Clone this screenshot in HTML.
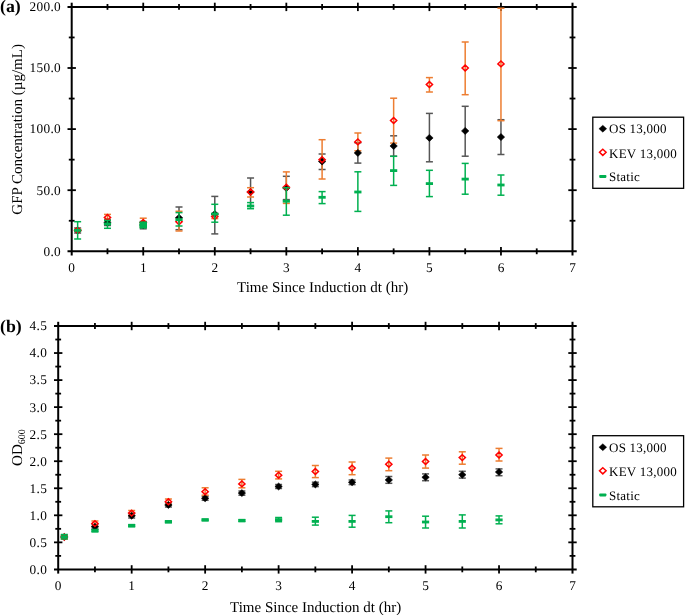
<!DOCTYPE html>
<html><head><meta charset="utf-8"><title>GFP and OD600 vs time</title>
<style>html,body{margin:0;padding:0;background:#fff;width:685px;height:615px;overflow:hidden}svg{display:block;will-change:transform}</style>
</head><body>
<svg width="685" height="615" viewBox="0 0 685 615" font-family='"Liberation Serif", serif' fill="#000" style="text-rendering:geometricPrecision">
<rect width="685" height="615" fill="#fff"/>
<g font-size="13.3"><text x="61" y="255.6" text-anchor="end" letter-spacing="0.3">0.0</text>
<text x="61" y="194.5" text-anchor="end" letter-spacing="0.3">50.0</text>
<text x="61" y="133.4" text-anchor="end" letter-spacing="0.3">100.0</text>
<text x="61" y="72.3" text-anchor="end" letter-spacing="0.3">150.0</text>
<text x="61" y="11.2" text-anchor="end" letter-spacing="0.3">200.0</text>
<text x="71.7" y="271.6" text-anchor="middle">0</text>
<text x="143.24" y="271.6" text-anchor="middle">1</text>
<text x="214.79" y="271.6" text-anchor="middle">2</text>
<text x="286.33" y="271.6" text-anchor="middle">3</text>
<text x="357.87" y="271.6" text-anchor="middle">4</text>
<text x="429.41" y="271.6" text-anchor="middle">5</text>
<text x="500.96" y="271.6" text-anchor="middle">6</text>
<text x="572.5" y="271.6" text-anchor="middle">7</text></g>
<line x1="67.5" y1="251.3" x2="576.7" y2="251.3" stroke="#000" stroke-width="2.0"/>
<line x1="67.5" y1="6.9" x2="576.7" y2="6.9" stroke="#000" stroke-width="2.0"/>
<line x1="71.7" y1="2.7" x2="71.7" y2="255.5" stroke="#000" stroke-width="2.0"/>
<line x1="572.5" y1="2.7" x2="572.5" y2="255.5" stroke="#000" stroke-width="2.0"/>
<line x1="107.47" y1="248.4" x2="107.47" y2="254.2" stroke="#000" stroke-width="1.8"/>
<line x1="107.47" y1="4" x2="107.47" y2="9.8" stroke="#000" stroke-width="1.8"/>
<line x1="143.24" y1="247.1" x2="143.24" y2="255.5" stroke="#000" stroke-width="1.8"/>
<line x1="143.24" y1="2.7" x2="143.24" y2="11.1" stroke="#000" stroke-width="1.8"/>
<line x1="179.01" y1="248.4" x2="179.01" y2="254.2" stroke="#000" stroke-width="1.8"/>
<line x1="179.01" y1="4" x2="179.01" y2="9.8" stroke="#000" stroke-width="1.8"/>
<line x1="214.79" y1="247.1" x2="214.79" y2="255.5" stroke="#000" stroke-width="1.8"/>
<line x1="214.79" y1="2.7" x2="214.79" y2="11.1" stroke="#000" stroke-width="1.8"/>
<line x1="250.56" y1="248.4" x2="250.56" y2="254.2" stroke="#000" stroke-width="1.8"/>
<line x1="250.56" y1="4" x2="250.56" y2="9.8" stroke="#000" stroke-width="1.8"/>
<line x1="286.33" y1="247.1" x2="286.33" y2="255.5" stroke="#000" stroke-width="1.8"/>
<line x1="286.33" y1="2.7" x2="286.33" y2="11.1" stroke="#000" stroke-width="1.8"/>
<line x1="322.1" y1="248.4" x2="322.1" y2="254.2" stroke="#000" stroke-width="1.8"/>
<line x1="322.1" y1="4" x2="322.1" y2="9.8" stroke="#000" stroke-width="1.8"/>
<line x1="357.87" y1="247.1" x2="357.87" y2="255.5" stroke="#000" stroke-width="1.8"/>
<line x1="357.87" y1="2.7" x2="357.87" y2="11.1" stroke="#000" stroke-width="1.8"/>
<line x1="393.64" y1="248.4" x2="393.64" y2="254.2" stroke="#000" stroke-width="1.8"/>
<line x1="393.64" y1="4" x2="393.64" y2="9.8" stroke="#000" stroke-width="1.8"/>
<line x1="429.41" y1="247.1" x2="429.41" y2="255.5" stroke="#000" stroke-width="1.8"/>
<line x1="429.41" y1="2.7" x2="429.41" y2="11.1" stroke="#000" stroke-width="1.8"/>
<line x1="465.19" y1="248.4" x2="465.19" y2="254.2" stroke="#000" stroke-width="1.8"/>
<line x1="465.19" y1="4" x2="465.19" y2="9.8" stroke="#000" stroke-width="1.8"/>
<line x1="500.96" y1="247.1" x2="500.96" y2="255.5" stroke="#000" stroke-width="1.8"/>
<line x1="500.96" y1="2.7" x2="500.96" y2="11.1" stroke="#000" stroke-width="1.8"/>
<line x1="536.73" y1="248.4" x2="536.73" y2="254.2" stroke="#000" stroke-width="1.8"/>
<line x1="536.73" y1="4" x2="536.73" y2="9.8" stroke="#000" stroke-width="1.8"/>
<line x1="68.8" y1="220.75" x2="74.6" y2="220.75" stroke="#000" stroke-width="1.8"/>
<line x1="569.6" y1="220.75" x2="575.4" y2="220.75" stroke="#000" stroke-width="1.8"/>
<line x1="67.5" y1="190.2" x2="75.9" y2="190.2" stroke="#000" stroke-width="1.8"/>
<line x1="568.3" y1="190.2" x2="576.7" y2="190.2" stroke="#000" stroke-width="1.8"/>
<line x1="68.8" y1="159.65" x2="74.6" y2="159.65" stroke="#000" stroke-width="1.8"/>
<line x1="569.6" y1="159.65" x2="575.4" y2="159.65" stroke="#000" stroke-width="1.8"/>
<line x1="67.5" y1="129.1" x2="75.9" y2="129.1" stroke="#000" stroke-width="1.8"/>
<line x1="568.3" y1="129.1" x2="576.7" y2="129.1" stroke="#000" stroke-width="1.8"/>
<line x1="68.8" y1="98.55" x2="74.6" y2="98.55" stroke="#000" stroke-width="1.8"/>
<line x1="569.6" y1="98.55" x2="575.4" y2="98.55" stroke="#000" stroke-width="1.8"/>
<line x1="67.5" y1="68" x2="75.9" y2="68" stroke="#000" stroke-width="1.8"/>
<line x1="568.3" y1="68" x2="576.7" y2="68" stroke="#000" stroke-width="1.8"/>
<line x1="68.8" y1="37.45" x2="74.6" y2="37.45" stroke="#000" stroke-width="1.8"/>
<line x1="569.6" y1="37.45" x2="575.4" y2="37.45" stroke="#000" stroke-width="1.8"/>
<line x1="77.64" y1="228" x2="77.64" y2="233" stroke="#565656" stroke-width="1.5"/>
<line x1="74.14" y1="228" x2="81.14" y2="228" stroke="#565656" stroke-width="1.5"/>
<line x1="74.14" y1="233" x2="81.14" y2="233" stroke="#565656" stroke-width="1.5"/>
<line x1="107.47" y1="219.5" x2="107.47" y2="225.5" stroke="#565656" stroke-width="1.5"/>
<line x1="103.97" y1="219.5" x2="110.97" y2="219.5" stroke="#565656" stroke-width="1.5"/>
<line x1="103.97" y1="225.5" x2="110.97" y2="225.5" stroke="#565656" stroke-width="1.5"/>
<line x1="143.24" y1="221.5" x2="143.24" y2="228.8" stroke="#565656" stroke-width="1.5"/>
<line x1="139.74" y1="221.5" x2="146.74" y2="221.5" stroke="#565656" stroke-width="1.5"/>
<line x1="139.74" y1="228.8" x2="146.74" y2="228.8" stroke="#565656" stroke-width="1.5"/>
<line x1="179.01" y1="207" x2="179.01" y2="229.7" stroke="#565656" stroke-width="1.5"/>
<line x1="175.51" y1="207" x2="182.51" y2="207" stroke="#565656" stroke-width="1.5"/>
<line x1="175.51" y1="229.7" x2="182.51" y2="229.7" stroke="#565656" stroke-width="1.5"/>
<line x1="214.79" y1="196.4" x2="214.79" y2="233.9" stroke="#565656" stroke-width="1.5"/>
<line x1="211.29" y1="196.4" x2="218.29" y2="196.4" stroke="#565656" stroke-width="1.5"/>
<line x1="211.29" y1="233.9" x2="218.29" y2="233.9" stroke="#565656" stroke-width="1.5"/>
<line x1="250.56" y1="178" x2="250.56" y2="206" stroke="#565656" stroke-width="1.5"/>
<line x1="247.06" y1="178" x2="254.06" y2="178" stroke="#565656" stroke-width="1.5"/>
<line x1="247.06" y1="206" x2="254.06" y2="206" stroke="#565656" stroke-width="1.5"/>
<line x1="286.33" y1="176.3" x2="286.33" y2="199.6" stroke="#565656" stroke-width="1.5"/>
<line x1="282.83" y1="176.3" x2="289.83" y2="176.3" stroke="#565656" stroke-width="1.5"/>
<line x1="282.83" y1="199.6" x2="289.83" y2="199.6" stroke="#565656" stroke-width="1.5"/>
<line x1="322.1" y1="154" x2="322.1" y2="169.5" stroke="#565656" stroke-width="1.5"/>
<line x1="318.6" y1="154" x2="325.6" y2="154" stroke="#565656" stroke-width="1.5"/>
<line x1="318.6" y1="169.5" x2="325.6" y2="169.5" stroke="#565656" stroke-width="1.5"/>
<line x1="357.87" y1="142.7" x2="357.87" y2="163.1" stroke="#565656" stroke-width="1.5"/>
<line x1="354.37" y1="142.7" x2="361.37" y2="142.7" stroke="#565656" stroke-width="1.5"/>
<line x1="354.37" y1="163.1" x2="361.37" y2="163.1" stroke="#565656" stroke-width="1.5"/>
<line x1="393.64" y1="135.8" x2="393.64" y2="156.2" stroke="#565656" stroke-width="1.5"/>
<line x1="390.14" y1="135.8" x2="397.14" y2="135.8" stroke="#565656" stroke-width="1.5"/>
<line x1="390.14" y1="156.2" x2="397.14" y2="156.2" stroke="#565656" stroke-width="1.5"/>
<line x1="429.41" y1="113.4" x2="429.41" y2="161.8" stroke="#565656" stroke-width="1.5"/>
<line x1="425.91" y1="113.4" x2="432.91" y2="113.4" stroke="#565656" stroke-width="1.5"/>
<line x1="425.91" y1="161.8" x2="432.91" y2="161.8" stroke="#565656" stroke-width="1.5"/>
<line x1="465.19" y1="106.3" x2="465.19" y2="156.2" stroke="#565656" stroke-width="1.5"/>
<line x1="461.69" y1="106.3" x2="468.69" y2="106.3" stroke="#565656" stroke-width="1.5"/>
<line x1="461.69" y1="156.2" x2="468.69" y2="156.2" stroke="#565656" stroke-width="1.5"/>
<line x1="500.96" y1="119.7" x2="500.96" y2="154.5" stroke="#565656" stroke-width="1.5"/>
<line x1="497.46" y1="119.7" x2="504.46" y2="119.7" stroke="#565656" stroke-width="1.5"/>
<line x1="497.46" y1="154.5" x2="504.46" y2="154.5" stroke="#565656" stroke-width="1.5"/>
<line x1="77.64" y1="229.2" x2="77.64" y2="231.2" stroke="#ED7D31" stroke-width="1.5"/>
<line x1="74.14" y1="229.2" x2="81.14" y2="229.2" stroke="#ED7D31" stroke-width="1.5"/>
<line x1="74.14" y1="231.2" x2="81.14" y2="231.2" stroke="#ED7D31" stroke-width="1.5"/>
<line x1="107.47" y1="214.4" x2="107.47" y2="220.4" stroke="#ED7D31" stroke-width="1.5"/>
<line x1="103.97" y1="214.4" x2="110.97" y2="214.4" stroke="#ED7D31" stroke-width="1.5"/>
<line x1="103.97" y1="220.4" x2="110.97" y2="220.4" stroke="#ED7D31" stroke-width="1.5"/>
<line x1="143.24" y1="218.2" x2="143.24" y2="226.8" stroke="#ED7D31" stroke-width="1.5"/>
<line x1="139.74" y1="218.2" x2="146.74" y2="218.2" stroke="#ED7D31" stroke-width="1.5"/>
<line x1="139.74" y1="226.8" x2="146.74" y2="226.8" stroke="#ED7D31" stroke-width="1.5"/>
<line x1="179.01" y1="211.3" x2="179.01" y2="231" stroke="#ED7D31" stroke-width="1.5"/>
<line x1="175.51" y1="211.3" x2="182.51" y2="211.3" stroke="#ED7D31" stroke-width="1.5"/>
<line x1="175.51" y1="231" x2="182.51" y2="231" stroke="#ED7D31" stroke-width="1.5"/>
<line x1="214.79" y1="214.6" x2="214.79" y2="218.6" stroke="#ED7D31" stroke-width="1.5"/>
<line x1="211.29" y1="214.6" x2="218.29" y2="214.6" stroke="#ED7D31" stroke-width="1.5"/>
<line x1="211.29" y1="218.6" x2="218.29" y2="218.6" stroke="#ED7D31" stroke-width="1.5"/>
<line x1="250.56" y1="187.7" x2="250.56" y2="197" stroke="#ED7D31" stroke-width="1.5"/>
<line x1="247.06" y1="187.7" x2="254.06" y2="187.7" stroke="#ED7D31" stroke-width="1.5"/>
<line x1="247.06" y1="197" x2="254.06" y2="197" stroke="#ED7D31" stroke-width="1.5"/>
<line x1="286.33" y1="171.9" x2="286.33" y2="203.4" stroke="#ED7D31" stroke-width="1.5"/>
<line x1="282.83" y1="171.9" x2="289.83" y2="171.9" stroke="#ED7D31" stroke-width="1.5"/>
<line x1="282.83" y1="203.4" x2="289.83" y2="203.4" stroke="#ED7D31" stroke-width="1.5"/>
<line x1="322.1" y1="139.7" x2="322.1" y2="179" stroke="#ED7D31" stroke-width="1.5"/>
<line x1="318.6" y1="139.7" x2="325.6" y2="139.7" stroke="#ED7D31" stroke-width="1.5"/>
<line x1="318.6" y1="179" x2="325.6" y2="179" stroke="#ED7D31" stroke-width="1.5"/>
<line x1="357.87" y1="133" x2="357.87" y2="150.8" stroke="#ED7D31" stroke-width="1.5"/>
<line x1="354.37" y1="133" x2="361.37" y2="133" stroke="#ED7D31" stroke-width="1.5"/>
<line x1="354.37" y1="150.8" x2="361.37" y2="150.8" stroke="#ED7D31" stroke-width="1.5"/>
<line x1="393.64" y1="98.2" x2="393.64" y2="143.1" stroke="#ED7D31" stroke-width="1.5"/>
<line x1="390.14" y1="98.2" x2="397.14" y2="98.2" stroke="#ED7D31" stroke-width="1.5"/>
<line x1="390.14" y1="143.1" x2="397.14" y2="143.1" stroke="#ED7D31" stroke-width="1.5"/>
<line x1="429.41" y1="77.6" x2="429.41" y2="92" stroke="#ED7D31" stroke-width="1.5"/>
<line x1="425.91" y1="77.6" x2="432.91" y2="77.6" stroke="#ED7D31" stroke-width="1.5"/>
<line x1="425.91" y1="92" x2="432.91" y2="92" stroke="#ED7D31" stroke-width="1.5"/>
<line x1="465.19" y1="42" x2="465.19" y2="94.7" stroke="#ED7D31" stroke-width="1.5"/>
<line x1="461.69" y1="42" x2="468.69" y2="42" stroke="#ED7D31" stroke-width="1.5"/>
<line x1="461.69" y1="94.7" x2="468.69" y2="94.7" stroke="#ED7D31" stroke-width="1.5"/>
<line x1="500.96" y1="8.2" x2="500.96" y2="120.7" stroke="#ED7D31" stroke-width="1.5"/>
<line x1="497.46" y1="8.2" x2="504.46" y2="8.2" stroke="#ED7D31" stroke-width="1.5"/>
<line x1="497.46" y1="120.7" x2="504.46" y2="120.7" stroke="#ED7D31" stroke-width="1.5"/>
<polygon points="77.64,226.9 81.34,230.4 77.64,233.9 73.94,230.4" fill="#000" stroke="#000" stroke-width="0.6"/>
<polygon points="107.47,219.1 111.17,222.6 107.47,226.1 103.77,222.6" fill="#000" stroke="#000" stroke-width="0.6"/>
<polygon points="143.24,221.5 146.94,225 143.24,228.5 139.54,225" fill="#000" stroke="#000" stroke-width="0.6"/>
<polygon points="179.01,214.3 182.71,217.8 179.01,221.3 175.31,217.8" fill="#000" stroke="#000" stroke-width="0.6"/>
<polygon points="214.79,210.5 218.49,214 214.79,217.5 211.09,214" fill="#000" stroke="#000" stroke-width="0.6"/>
<polygon points="250.56,188.5 254.26,192 250.56,195.5 246.86,192" fill="#000" stroke="#000" stroke-width="0.6"/>
<polygon points="286.33,184.5 290.03,188 286.33,191.5 282.63,188" fill="#000" stroke="#000" stroke-width="0.6"/>
<polygon points="322.1,158 325.8,161.5 322.1,165 318.4,161.5" fill="#000" stroke="#000" stroke-width="0.6"/>
<polygon points="357.87,149.4 361.57,152.9 357.87,156.4 354.17,152.9" fill="#000" stroke="#000" stroke-width="0.6"/>
<polygon points="393.64,142.5 397.34,146 393.64,149.5 389.94,146" fill="#000" stroke="#000" stroke-width="0.6"/>
<polygon points="429.41,134.4 433.11,137.9 429.41,141.4 425.71,137.9" fill="#000" stroke="#000" stroke-width="0.6"/>
<polygon points="465.19,127.4 468.89,130.9 465.19,134.4 461.49,130.9" fill="#000" stroke="#000" stroke-width="0.6"/>
<polygon points="500.96,133.6 504.66,137.1 500.96,140.6 497.26,137.1" fill="#000" stroke="#000" stroke-width="0.6"/>
<polygon points="77.64,227.3 80.74,230.2 77.64,233.1 74.54,230.2" fill="none" stroke="#FF0000" stroke-width="1.5"/>
<polygon points="107.47,214.5 110.57,217.4 107.47,220.3 104.37,217.4" fill="none" stroke="#FF0000" stroke-width="1.5"/>
<polygon points="143.24,219.6 146.34,222.5 143.24,225.4 140.14,222.5" fill="none" stroke="#FF0000" stroke-width="1.5"/>
<polygon points="179.01,218.8 182.11,221.7 179.01,224.6 175.91,221.7" fill="none" stroke="#FF0000" stroke-width="1.5"/>
<polygon points="214.79,213.7 217.89,216.6 214.79,219.5 211.69,216.6" fill="none" stroke="#FF0000" stroke-width="1.5"/>
<polygon points="250.56,189.1 253.66,192 250.56,194.9 247.46,192" fill="none" stroke="#FF0000" stroke-width="1.5"/>
<polygon points="286.33,184.4 289.43,187.3 286.33,190.2 283.23,187.3" fill="none" stroke="#FF0000" stroke-width="1.5"/>
<polygon points="322.1,156.8 325.2,159.7 322.1,162.6 319,159.7" fill="none" stroke="#FF0000" stroke-width="1.5"/>
<polygon points="357.87,139 360.97,141.9 357.87,144.8 354.77,141.9" fill="none" stroke="#FF0000" stroke-width="1.5"/>
<polygon points="393.64,117.6 396.74,120.5 393.64,123.4 390.54,120.5" fill="none" stroke="#FF0000" stroke-width="1.5"/>
<polygon points="429.41,81.6 432.51,84.5 429.41,87.4 426.31,84.5" fill="none" stroke="#FF0000" stroke-width="1.5"/>
<polygon points="465.19,65.1 468.29,68 465.19,70.9 462.09,68" fill="none" stroke="#FF0000" stroke-width="1.5"/>
<polygon points="500.96,61 504.06,63.9 500.96,66.8 497.86,63.9" fill="none" stroke="#FF0000" stroke-width="1.5"/>
<line x1="77.64" y1="221.7" x2="77.64" y2="239" stroke="#00B050" stroke-width="1.5"/>
<line x1="74.14" y1="221.7" x2="81.14" y2="221.7" stroke="#00B050" stroke-width="1.5"/>
<line x1="74.14" y1="239" x2="81.14" y2="239" stroke="#00B050" stroke-width="1.5"/>
<line x1="107.47" y1="220.5" x2="107.47" y2="228.3" stroke="#00B050" stroke-width="1.5"/>
<line x1="103.97" y1="220.5" x2="110.97" y2="220.5" stroke="#00B050" stroke-width="1.5"/>
<line x1="103.97" y1="228.3" x2="110.97" y2="228.3" stroke="#00B050" stroke-width="1.5"/>
<line x1="143.24" y1="222.4" x2="143.24" y2="227.6" stroke="#00B050" stroke-width="1.5"/>
<line x1="139.74" y1="222.4" x2="146.74" y2="222.4" stroke="#00B050" stroke-width="1.5"/>
<line x1="139.74" y1="227.6" x2="146.74" y2="227.6" stroke="#00B050" stroke-width="1.5"/>
<line x1="179.01" y1="212.6" x2="179.01" y2="226" stroke="#00B050" stroke-width="1.5"/>
<line x1="175.51" y1="212.6" x2="182.51" y2="212.6" stroke="#00B050" stroke-width="1.5"/>
<line x1="175.51" y1="226" x2="182.51" y2="226" stroke="#00B050" stroke-width="1.5"/>
<line x1="214.79" y1="204.3" x2="214.79" y2="222.2" stroke="#00B050" stroke-width="1.5"/>
<line x1="211.29" y1="204.3" x2="218.29" y2="204.3" stroke="#00B050" stroke-width="1.5"/>
<line x1="211.29" y1="222.2" x2="218.29" y2="222.2" stroke="#00B050" stroke-width="1.5"/>
<line x1="250.56" y1="202.6" x2="250.56" y2="208.7" stroke="#00B050" stroke-width="1.5"/>
<line x1="247.06" y1="202.6" x2="254.06" y2="202.6" stroke="#00B050" stroke-width="1.5"/>
<line x1="247.06" y1="208.7" x2="254.06" y2="208.7" stroke="#00B050" stroke-width="1.5"/>
<line x1="286.33" y1="187.7" x2="286.33" y2="215.2" stroke="#00B050" stroke-width="1.5"/>
<line x1="282.83" y1="187.7" x2="289.83" y2="187.7" stroke="#00B050" stroke-width="1.5"/>
<line x1="282.83" y1="215.2" x2="289.83" y2="215.2" stroke="#00B050" stroke-width="1.5"/>
<line x1="322.1" y1="191.6" x2="322.1" y2="203.6" stroke="#00B050" stroke-width="1.5"/>
<line x1="318.6" y1="191.6" x2="325.6" y2="191.6" stroke="#00B050" stroke-width="1.5"/>
<line x1="318.6" y1="203.6" x2="325.6" y2="203.6" stroke="#00B050" stroke-width="1.5"/>
<line x1="357.87" y1="171.8" x2="357.87" y2="211.4" stroke="#00B050" stroke-width="1.5"/>
<line x1="354.37" y1="171.8" x2="361.37" y2="171.8" stroke="#00B050" stroke-width="1.5"/>
<line x1="354.37" y1="211.4" x2="361.37" y2="211.4" stroke="#00B050" stroke-width="1.5"/>
<line x1="393.64" y1="156.3" x2="393.64" y2="185.4" stroke="#00B050" stroke-width="1.5"/>
<line x1="390.14" y1="156.3" x2="397.14" y2="156.3" stroke="#00B050" stroke-width="1.5"/>
<line x1="390.14" y1="185.4" x2="397.14" y2="185.4" stroke="#00B050" stroke-width="1.5"/>
<line x1="429.41" y1="170.3" x2="429.41" y2="196.6" stroke="#00B050" stroke-width="1.5"/>
<line x1="425.91" y1="170.3" x2="432.91" y2="170.3" stroke="#00B050" stroke-width="1.5"/>
<line x1="425.91" y1="196.6" x2="432.91" y2="196.6" stroke="#00B050" stroke-width="1.5"/>
<line x1="465.19" y1="163.4" x2="465.19" y2="194.2" stroke="#00B050" stroke-width="1.5"/>
<line x1="461.69" y1="163.4" x2="468.69" y2="163.4" stroke="#00B050" stroke-width="1.5"/>
<line x1="461.69" y1="194.2" x2="468.69" y2="194.2" stroke="#00B050" stroke-width="1.5"/>
<line x1="500.96" y1="175" x2="500.96" y2="195.2" stroke="#00B050" stroke-width="1.5"/>
<line x1="497.46" y1="175" x2="504.46" y2="175" stroke="#00B050" stroke-width="1.5"/>
<line x1="497.46" y1="195.2" x2="504.46" y2="195.2" stroke="#00B050" stroke-width="1.5"/>
<rect x="74.04" y="229" width="7.2" height="2.8" fill="#00B050"/>
<rect x="103.87" y="222.5" width="7.2" height="2.8" fill="#00B050"/>
<rect x="139.64" y="223.6" width="7.2" height="2.8" fill="#00B050"/>
<rect x="175.41" y="218.2" width="7.2" height="2.8" fill="#00B050"/>
<rect x="211.19" y="212.6" width="7.2" height="2.8" fill="#00B050"/>
<rect x="246.96" y="204.6" width="7.2" height="2.8" fill="#00B050"/>
<rect x="282.73" y="199.8" width="7.2" height="2.8" fill="#00B050"/>
<rect x="318.5" y="195.9" width="7.2" height="2.8" fill="#00B050"/>
<rect x="354.27" y="190.6" width="7.2" height="2.8" fill="#00B050"/>
<rect x="390.04" y="169.2" width="7.2" height="2.8" fill="#00B050"/>
<rect x="425.81" y="182.2" width="7.2" height="2.8" fill="#00B050"/>
<rect x="461.59" y="177.7" width="7.2" height="2.8" fill="#00B050"/>
<rect x="497.36" y="183.6" width="7.2" height="2.8" fill="#00B050"/>
<rect x="139.5" y="221.7" width="7.5" height="6.6" fill="#00B050"/>
<text x="322.6" y="292.4" font-size="15" text-anchor="middle">Time Since Induction dt (hr)</text>
<text transform="translate(21.5,129.4) rotate(-90)" font-size="15" text-anchor="middle">GFP Concentration (µg/mL)</text>
<text x="0" y="12.4" font-size="17.8" font-weight="bold">(a)</text>
<rect x="592.8" y="117.2" width="90.8" height="71.1" fill="#fff" stroke="#000" stroke-width="1.3"/>
<polygon points="602.8,125.2 606.7,128.7 602.8,132.2 598.9,128.7" fill="#000" stroke="#000" stroke-width="0.4"/>
<text x="609.0" y="133" font-size="13" letter-spacing="0.25">OS 13,000</text>
<polygon points="602.8,149.2 606.1,152.3 602.8,155.4 599.5,152.3" fill="none" stroke="#FF0000" stroke-width="1.5"/>
<text x="609.0" y="157.6" font-size="13" letter-spacing="0.25">KEV 13,000</text>
<rect x="599.2" y="174.9" width="7.2" height="3" rx="0.8" fill="#00B050"/>
<text x="609.0" y="181.3" font-size="13" letter-spacing="0.25">Static</text>
<g font-size="13.3"><text x="47.1" y="573.8" text-anchor="end" letter-spacing="0.3">0.0</text>
<text x="47.1" y="546.76" text-anchor="end" letter-spacing="0.3">0.5</text>
<text x="47.1" y="519.71" text-anchor="end" letter-spacing="0.3">1.0</text>
<text x="47.1" y="492.67" text-anchor="end" letter-spacing="0.3">1.5</text>
<text x="47.1" y="465.62" text-anchor="end" letter-spacing="0.3">2.0</text>
<text x="47.1" y="438.58" text-anchor="end" letter-spacing="0.3">2.5</text>
<text x="47.1" y="411.53" text-anchor="end" letter-spacing="0.3">3.0</text>
<text x="47.1" y="384.49" text-anchor="end" letter-spacing="0.3">3.5</text>
<text x="47.1" y="357.44" text-anchor="end" letter-spacing="0.3">4.0</text>
<text x="47.1" y="330.4" text-anchor="end" letter-spacing="0.3">4.5</text>
<text x="58.2" y="589.8" text-anchor="middle">0</text>
<text x="131.67" y="589.8" text-anchor="middle">1</text>
<text x="205.14" y="589.8" text-anchor="middle">2</text>
<text x="278.61" y="589.8" text-anchor="middle">3</text>
<text x="352.09" y="589.8" text-anchor="middle">4</text>
<text x="425.56" y="589.8" text-anchor="middle">5</text>
<text x="499.03" y="589.8" text-anchor="middle">6</text>
<text x="572.5" y="589.8" text-anchor="middle">7</text></g>
<line x1="54" y1="569.4" x2="576.7" y2="569.4" stroke="#000" stroke-width="2.0"/>
<line x1="54" y1="326" x2="576.7" y2="326" stroke="#000" stroke-width="2.0"/>
<line x1="58.2" y1="321.8" x2="58.2" y2="573.6" stroke="#000" stroke-width="2.0"/>
<line x1="572.5" y1="321.8" x2="572.5" y2="573.6" stroke="#000" stroke-width="2.0"/>
<line x1="94.94" y1="566.5" x2="94.94" y2="572.3" stroke="#000" stroke-width="1.8"/>
<line x1="94.94" y1="323.1" x2="94.94" y2="328.9" stroke="#000" stroke-width="1.8"/>
<line x1="131.67" y1="565.2" x2="131.67" y2="573.6" stroke="#000" stroke-width="1.8"/>
<line x1="131.67" y1="321.8" x2="131.67" y2="330.2" stroke="#000" stroke-width="1.8"/>
<line x1="168.41" y1="566.5" x2="168.41" y2="572.3" stroke="#000" stroke-width="1.8"/>
<line x1="168.41" y1="323.1" x2="168.41" y2="328.9" stroke="#000" stroke-width="1.8"/>
<line x1="205.14" y1="565.2" x2="205.14" y2="573.6" stroke="#000" stroke-width="1.8"/>
<line x1="205.14" y1="321.8" x2="205.14" y2="330.2" stroke="#000" stroke-width="1.8"/>
<line x1="241.88" y1="566.5" x2="241.88" y2="572.3" stroke="#000" stroke-width="1.8"/>
<line x1="241.88" y1="323.1" x2="241.88" y2="328.9" stroke="#000" stroke-width="1.8"/>
<line x1="278.61" y1="565.2" x2="278.61" y2="573.6" stroke="#000" stroke-width="1.8"/>
<line x1="278.61" y1="321.8" x2="278.61" y2="330.2" stroke="#000" stroke-width="1.8"/>
<line x1="315.35" y1="566.5" x2="315.35" y2="572.3" stroke="#000" stroke-width="1.8"/>
<line x1="315.35" y1="323.1" x2="315.35" y2="328.9" stroke="#000" stroke-width="1.8"/>
<line x1="352.09" y1="565.2" x2="352.09" y2="573.6" stroke="#000" stroke-width="1.8"/>
<line x1="352.09" y1="321.8" x2="352.09" y2="330.2" stroke="#000" stroke-width="1.8"/>
<line x1="388.82" y1="566.5" x2="388.82" y2="572.3" stroke="#000" stroke-width="1.8"/>
<line x1="388.82" y1="323.1" x2="388.82" y2="328.9" stroke="#000" stroke-width="1.8"/>
<line x1="425.56" y1="565.2" x2="425.56" y2="573.6" stroke="#000" stroke-width="1.8"/>
<line x1="425.56" y1="321.8" x2="425.56" y2="330.2" stroke="#000" stroke-width="1.8"/>
<line x1="462.29" y1="566.5" x2="462.29" y2="572.3" stroke="#000" stroke-width="1.8"/>
<line x1="462.29" y1="323.1" x2="462.29" y2="328.9" stroke="#000" stroke-width="1.8"/>
<line x1="499.03" y1="565.2" x2="499.03" y2="573.6" stroke="#000" stroke-width="1.8"/>
<line x1="499.03" y1="321.8" x2="499.03" y2="330.2" stroke="#000" stroke-width="1.8"/>
<line x1="535.76" y1="566.5" x2="535.76" y2="572.3" stroke="#000" stroke-width="1.8"/>
<line x1="535.76" y1="323.1" x2="535.76" y2="328.9" stroke="#000" stroke-width="1.8"/>
<line x1="55.3" y1="555.88" x2="61.1" y2="555.88" stroke="#000" stroke-width="1.8"/>
<line x1="569.6" y1="555.88" x2="575.4" y2="555.88" stroke="#000" stroke-width="1.8"/>
<line x1="54" y1="542.36" x2="62.4" y2="542.36" stroke="#000" stroke-width="1.8"/>
<line x1="568.3" y1="542.36" x2="576.7" y2="542.36" stroke="#000" stroke-width="1.8"/>
<line x1="55.3" y1="528.83" x2="61.1" y2="528.83" stroke="#000" stroke-width="1.8"/>
<line x1="569.6" y1="528.83" x2="575.4" y2="528.83" stroke="#000" stroke-width="1.8"/>
<line x1="54" y1="515.31" x2="62.4" y2="515.31" stroke="#000" stroke-width="1.8"/>
<line x1="568.3" y1="515.31" x2="576.7" y2="515.31" stroke="#000" stroke-width="1.8"/>
<line x1="55.3" y1="501.79" x2="61.1" y2="501.79" stroke="#000" stroke-width="1.8"/>
<line x1="569.6" y1="501.79" x2="575.4" y2="501.79" stroke="#000" stroke-width="1.8"/>
<line x1="54" y1="488.27" x2="62.4" y2="488.27" stroke="#000" stroke-width="1.8"/>
<line x1="568.3" y1="488.27" x2="576.7" y2="488.27" stroke="#000" stroke-width="1.8"/>
<line x1="55.3" y1="474.74" x2="61.1" y2="474.74" stroke="#000" stroke-width="1.8"/>
<line x1="569.6" y1="474.74" x2="575.4" y2="474.74" stroke="#000" stroke-width="1.8"/>
<line x1="54" y1="461.22" x2="62.4" y2="461.22" stroke="#000" stroke-width="1.8"/>
<line x1="568.3" y1="461.22" x2="576.7" y2="461.22" stroke="#000" stroke-width="1.8"/>
<line x1="55.3" y1="447.7" x2="61.1" y2="447.7" stroke="#000" stroke-width="1.8"/>
<line x1="569.6" y1="447.7" x2="575.4" y2="447.7" stroke="#000" stroke-width="1.8"/>
<line x1="54" y1="434.18" x2="62.4" y2="434.18" stroke="#000" stroke-width="1.8"/>
<line x1="568.3" y1="434.18" x2="576.7" y2="434.18" stroke="#000" stroke-width="1.8"/>
<line x1="55.3" y1="420.66" x2="61.1" y2="420.66" stroke="#000" stroke-width="1.8"/>
<line x1="569.6" y1="420.66" x2="575.4" y2="420.66" stroke="#000" stroke-width="1.8"/>
<line x1="54" y1="407.13" x2="62.4" y2="407.13" stroke="#000" stroke-width="1.8"/>
<line x1="568.3" y1="407.13" x2="576.7" y2="407.13" stroke="#000" stroke-width="1.8"/>
<line x1="55.3" y1="393.61" x2="61.1" y2="393.61" stroke="#000" stroke-width="1.8"/>
<line x1="569.6" y1="393.61" x2="575.4" y2="393.61" stroke="#000" stroke-width="1.8"/>
<line x1="54" y1="380.09" x2="62.4" y2="380.09" stroke="#000" stroke-width="1.8"/>
<line x1="568.3" y1="380.09" x2="576.7" y2="380.09" stroke="#000" stroke-width="1.8"/>
<line x1="55.3" y1="366.57" x2="61.1" y2="366.57" stroke="#000" stroke-width="1.8"/>
<line x1="569.6" y1="366.57" x2="575.4" y2="366.57" stroke="#000" stroke-width="1.8"/>
<line x1="54" y1="353.04" x2="62.4" y2="353.04" stroke="#000" stroke-width="1.8"/>
<line x1="568.3" y1="353.04" x2="576.7" y2="353.04" stroke="#000" stroke-width="1.8"/>
<line x1="55.3" y1="339.52" x2="61.1" y2="339.52" stroke="#000" stroke-width="1.8"/>
<line x1="569.6" y1="339.52" x2="575.4" y2="339.52" stroke="#000" stroke-width="1.8"/>
<line x1="64.3" y1="535.5" x2="64.3" y2="538.5" stroke="#565656" stroke-width="1.5"/>
<line x1="60.8" y1="535.5" x2="67.8" y2="535.5" stroke="#565656" stroke-width="1.5"/>
<line x1="60.8" y1="538.5" x2="67.8" y2="538.5" stroke="#565656" stroke-width="1.5"/>
<line x1="94.94" y1="524.5" x2="94.94" y2="529" stroke="#565656" stroke-width="1.5"/>
<line x1="91.44" y1="524.5" x2="98.44" y2="524.5" stroke="#565656" stroke-width="1.5"/>
<line x1="91.44" y1="529" x2="98.44" y2="529" stroke="#565656" stroke-width="1.5"/>
<line x1="131.67" y1="513.5" x2="131.67" y2="518" stroke="#565656" stroke-width="1.5"/>
<line x1="128.17" y1="513.5" x2="135.17" y2="513.5" stroke="#565656" stroke-width="1.5"/>
<line x1="128.17" y1="518" x2="135.17" y2="518" stroke="#565656" stroke-width="1.5"/>
<line x1="168.41" y1="503" x2="168.41" y2="507" stroke="#565656" stroke-width="1.5"/>
<line x1="164.91" y1="503" x2="171.91" y2="503" stroke="#565656" stroke-width="1.5"/>
<line x1="164.91" y1="507" x2="171.91" y2="507" stroke="#565656" stroke-width="1.5"/>
<line x1="205.14" y1="496.3" x2="205.14" y2="500.3" stroke="#565656" stroke-width="1.5"/>
<line x1="201.64" y1="496.3" x2="208.64" y2="496.3" stroke="#565656" stroke-width="1.5"/>
<line x1="201.64" y1="500.3" x2="208.64" y2="500.3" stroke="#565656" stroke-width="1.5"/>
<line x1="241.88" y1="491" x2="241.88" y2="495.2" stroke="#565656" stroke-width="1.5"/>
<line x1="238.38" y1="491" x2="245.38" y2="491" stroke="#565656" stroke-width="1.5"/>
<line x1="238.38" y1="495.2" x2="245.38" y2="495.2" stroke="#565656" stroke-width="1.5"/>
<line x1="278.61" y1="484.5" x2="278.61" y2="488.5" stroke="#565656" stroke-width="1.5"/>
<line x1="275.11" y1="484.5" x2="282.11" y2="484.5" stroke="#565656" stroke-width="1.5"/>
<line x1="275.11" y1="488.5" x2="282.11" y2="488.5" stroke="#565656" stroke-width="1.5"/>
<line x1="315.35" y1="482.2" x2="315.35" y2="486.6" stroke="#565656" stroke-width="1.5"/>
<line x1="311.85" y1="482.2" x2="318.85" y2="482.2" stroke="#565656" stroke-width="1.5"/>
<line x1="311.85" y1="486.6" x2="318.85" y2="486.6" stroke="#565656" stroke-width="1.5"/>
<line x1="352.09" y1="480" x2="352.09" y2="484.6" stroke="#565656" stroke-width="1.5"/>
<line x1="348.59" y1="480" x2="355.59" y2="480" stroke="#565656" stroke-width="1.5"/>
<line x1="348.59" y1="484.6" x2="355.59" y2="484.6" stroke="#565656" stroke-width="1.5"/>
<line x1="388.82" y1="476.5" x2="388.82" y2="483.3" stroke="#565656" stroke-width="1.5"/>
<line x1="385.32" y1="476.5" x2="392.32" y2="476.5" stroke="#565656" stroke-width="1.5"/>
<line x1="385.32" y1="483.3" x2="392.32" y2="483.3" stroke="#565656" stroke-width="1.5"/>
<line x1="425.56" y1="473.9" x2="425.56" y2="480.7" stroke="#565656" stroke-width="1.5"/>
<line x1="422.06" y1="473.9" x2="429.06" y2="473.9" stroke="#565656" stroke-width="1.5"/>
<line x1="422.06" y1="480.7" x2="429.06" y2="480.7" stroke="#565656" stroke-width="1.5"/>
<line x1="462.29" y1="471.3" x2="462.29" y2="478.1" stroke="#565656" stroke-width="1.5"/>
<line x1="458.79" y1="471.3" x2="465.79" y2="471.3" stroke="#565656" stroke-width="1.5"/>
<line x1="458.79" y1="478.1" x2="465.79" y2="478.1" stroke="#565656" stroke-width="1.5"/>
<line x1="499.03" y1="468.9" x2="499.03" y2="475.7" stroke="#565656" stroke-width="1.5"/>
<line x1="495.53" y1="468.9" x2="502.53" y2="468.9" stroke="#565656" stroke-width="1.5"/>
<line x1="495.53" y1="475.7" x2="502.53" y2="475.7" stroke="#565656" stroke-width="1.5"/>
<line x1="64.3" y1="535" x2="64.3" y2="539" stroke="#ED7D31" stroke-width="1.5"/>
<line x1="60.8" y1="535" x2="67.8" y2="535" stroke="#ED7D31" stroke-width="1.5"/>
<line x1="60.8" y1="539" x2="67.8" y2="539" stroke="#ED7D31" stroke-width="1.5"/>
<line x1="94.94" y1="521" x2="94.94" y2="526.2" stroke="#ED7D31" stroke-width="1.5"/>
<line x1="91.44" y1="521" x2="98.44" y2="521" stroke="#ED7D31" stroke-width="1.5"/>
<line x1="91.44" y1="526.2" x2="98.44" y2="526.2" stroke="#ED7D31" stroke-width="1.5"/>
<line x1="131.67" y1="510.5" x2="131.67" y2="515.7" stroke="#ED7D31" stroke-width="1.5"/>
<line x1="128.17" y1="510.5" x2="135.17" y2="510.5" stroke="#ED7D31" stroke-width="1.5"/>
<line x1="128.17" y1="515.7" x2="135.17" y2="515.7" stroke="#ED7D31" stroke-width="1.5"/>
<line x1="168.41" y1="499" x2="168.41" y2="504.6" stroke="#ED7D31" stroke-width="1.5"/>
<line x1="164.91" y1="499" x2="171.91" y2="499" stroke="#ED7D31" stroke-width="1.5"/>
<line x1="164.91" y1="504.6" x2="171.91" y2="504.6" stroke="#ED7D31" stroke-width="1.5"/>
<line x1="205.14" y1="487.8" x2="205.14" y2="495.2" stroke="#ED7D31" stroke-width="1.5"/>
<line x1="201.64" y1="487.8" x2="208.64" y2="487.8" stroke="#ED7D31" stroke-width="1.5"/>
<line x1="201.64" y1="495.2" x2="208.64" y2="495.2" stroke="#ED7D31" stroke-width="1.5"/>
<line x1="241.88" y1="479.4" x2="241.88" y2="487.8" stroke="#ED7D31" stroke-width="1.5"/>
<line x1="238.38" y1="479.4" x2="245.38" y2="479.4" stroke="#ED7D31" stroke-width="1.5"/>
<line x1="238.38" y1="487.8" x2="245.38" y2="487.8" stroke="#ED7D31" stroke-width="1.5"/>
<line x1="278.61" y1="471.3" x2="278.61" y2="478.9" stroke="#ED7D31" stroke-width="1.5"/>
<line x1="275.11" y1="471.3" x2="282.11" y2="471.3" stroke="#ED7D31" stroke-width="1.5"/>
<line x1="275.11" y1="478.9" x2="282.11" y2="478.9" stroke="#ED7D31" stroke-width="1.5"/>
<line x1="315.35" y1="465.5" x2="315.35" y2="477.6" stroke="#ED7D31" stroke-width="1.5"/>
<line x1="311.85" y1="465.5" x2="318.85" y2="465.5" stroke="#ED7D31" stroke-width="1.5"/>
<line x1="311.85" y1="477.6" x2="318.85" y2="477.6" stroke="#ED7D31" stroke-width="1.5"/>
<line x1="352.09" y1="462" x2="352.09" y2="474.7" stroke="#ED7D31" stroke-width="1.5"/>
<line x1="348.59" y1="462" x2="355.59" y2="462" stroke="#ED7D31" stroke-width="1.5"/>
<line x1="348.59" y1="474.7" x2="355.59" y2="474.7" stroke="#ED7D31" stroke-width="1.5"/>
<line x1="388.82" y1="458.1" x2="388.82" y2="470.7" stroke="#ED7D31" stroke-width="1.5"/>
<line x1="385.32" y1="458.1" x2="392.32" y2="458.1" stroke="#ED7D31" stroke-width="1.5"/>
<line x1="385.32" y1="470.7" x2="392.32" y2="470.7" stroke="#ED7D31" stroke-width="1.5"/>
<line x1="425.56" y1="455" x2="425.56" y2="468.1" stroke="#ED7D31" stroke-width="1.5"/>
<line x1="422.06" y1="455" x2="429.06" y2="455" stroke="#ED7D31" stroke-width="1.5"/>
<line x1="422.06" y1="468.1" x2="429.06" y2="468.1" stroke="#ED7D31" stroke-width="1.5"/>
<line x1="462.29" y1="451.8" x2="462.29" y2="464.2" stroke="#ED7D31" stroke-width="1.5"/>
<line x1="458.79" y1="451.8" x2="465.79" y2="451.8" stroke="#ED7D31" stroke-width="1.5"/>
<line x1="458.79" y1="464.2" x2="465.79" y2="464.2" stroke="#ED7D31" stroke-width="1.5"/>
<line x1="499.03" y1="448.4" x2="499.03" y2="461" stroke="#ED7D31" stroke-width="1.5"/>
<line x1="495.53" y1="448.4" x2="502.53" y2="448.4" stroke="#ED7D31" stroke-width="1.5"/>
<line x1="495.53" y1="461" x2="502.53" y2="461" stroke="#ED7D31" stroke-width="1.5"/>
<polygon points="64.3,533.5 68,537 64.3,540.5 60.6,537" fill="#000" stroke="#000" stroke-width="0.6"/>
<polygon points="94.94,523.3 98.64,526.8 94.94,530.3 91.24,526.8" fill="#000" stroke="#000" stroke-width="0.6"/>
<polygon points="131.67,512.2 135.37,515.7 131.67,519.2 127.97,515.7" fill="#000" stroke="#000" stroke-width="0.6"/>
<polygon points="168.41,501.5 172.11,505 168.41,508.5 164.71,505" fill="#000" stroke="#000" stroke-width="0.6"/>
<polygon points="205.14,494.8 208.84,498.3 205.14,501.8 201.44,498.3" fill="#000" stroke="#000" stroke-width="0.6"/>
<polygon points="241.88,489.6 245.58,493.1 241.88,496.6 238.18,493.1" fill="#000" stroke="#000" stroke-width="0.6"/>
<polygon points="278.61,483 282.31,486.5 278.61,490 274.91,486.5" fill="#000" stroke="#000" stroke-width="0.6"/>
<polygon points="315.35,480.9 319.05,484.4 315.35,487.9 311.65,484.4" fill="#000" stroke="#000" stroke-width="0.6"/>
<polygon points="352.09,478.8 355.79,482.3 352.09,485.8 348.39,482.3" fill="#000" stroke="#000" stroke-width="0.6"/>
<polygon points="388.82,476.4 392.52,479.9 388.82,483.4 385.12,479.9" fill="#000" stroke="#000" stroke-width="0.6"/>
<polygon points="425.56,473.8 429.26,477.3 425.56,480.8 421.86,477.3" fill="#000" stroke="#000" stroke-width="0.6"/>
<polygon points="462.29,471.2 465.99,474.7 462.29,478.2 458.59,474.7" fill="#000" stroke="#000" stroke-width="0.6"/>
<polygon points="499.03,468.5 502.73,472 499.03,475.5 495.33,472" fill="#000" stroke="#000" stroke-width="0.6"/>
<polygon points="64.3,534.1 67.4,537 64.3,539.9 61.2,537" fill="none" stroke="#FF0000" stroke-width="1.5"/>
<polygon points="94.94,520.7 98.04,523.6 94.94,526.5 91.84,523.6" fill="none" stroke="#FF0000" stroke-width="1.5"/>
<polygon points="131.67,510.2 134.77,513.1 131.67,516 128.57,513.1" fill="none" stroke="#FF0000" stroke-width="1.5"/>
<polygon points="168.41,498.9 171.51,501.8 168.41,504.7 165.31,501.8" fill="none" stroke="#FF0000" stroke-width="1.5"/>
<polygon points="205.14,488.8 208.24,491.7 205.14,494.6 202.04,491.7" fill="none" stroke="#FF0000" stroke-width="1.5"/>
<polygon points="241.88,481 244.98,483.9 241.88,486.8 238.78,483.9" fill="none" stroke="#FF0000" stroke-width="1.5"/>
<polygon points="278.61,472.3 281.71,475.2 278.61,478.1 275.51,475.2" fill="none" stroke="#FF0000" stroke-width="1.5"/>
<polygon points="315.35,468.6 318.45,471.5 315.35,474.4 312.25,471.5" fill="none" stroke="#FF0000" stroke-width="1.5"/>
<polygon points="352.09,465.2 355.19,468.1 352.09,471 348.99,468.1" fill="none" stroke="#FF0000" stroke-width="1.5"/>
<polygon points="388.82,461.3 391.92,464.2 388.82,467.1 385.72,464.2" fill="none" stroke="#FF0000" stroke-width="1.5"/>
<polygon points="425.56,458.6 428.66,461.5 425.56,464.4 422.46,461.5" fill="none" stroke="#FF0000" stroke-width="1.5"/>
<polygon points="462.29,454.7 465.39,457.6 462.29,460.5 459.19,457.6" fill="none" stroke="#FF0000" stroke-width="1.5"/>
<polygon points="499.03,452.1 502.13,455 499.03,457.9 495.93,455" fill="none" stroke="#FF0000" stroke-width="1.5"/>
<line x1="64.3" y1="534.5" x2="64.3" y2="539" stroke="#00B050" stroke-width="1.5"/>
<line x1="60.8" y1="534.5" x2="67.8" y2="534.5" stroke="#00B050" stroke-width="1.5"/>
<line x1="60.8" y1="539" x2="67.8" y2="539" stroke="#00B050" stroke-width="1.5"/>
<line x1="94.94" y1="529.5" x2="94.94" y2="531.9" stroke="#00B050" stroke-width="1.5"/>
<line x1="91.44" y1="529.5" x2="98.44" y2="529.5" stroke="#00B050" stroke-width="1.5"/>
<line x1="91.44" y1="531.9" x2="98.44" y2="531.9" stroke="#00B050" stroke-width="1.5"/>
<line x1="131.67" y1="524.6" x2="131.67" y2="526.8" stroke="#00B050" stroke-width="1.5"/>
<line x1="128.17" y1="524.6" x2="135.17" y2="524.6" stroke="#00B050" stroke-width="1.5"/>
<line x1="128.17" y1="526.8" x2="135.17" y2="526.8" stroke="#00B050" stroke-width="1.5"/>
<line x1="168.41" y1="520.8" x2="168.41" y2="522.8" stroke="#00B050" stroke-width="1.5"/>
<line x1="164.91" y1="520.8" x2="171.91" y2="520.8" stroke="#00B050" stroke-width="1.5"/>
<line x1="164.91" y1="522.8" x2="171.91" y2="522.8" stroke="#00B050" stroke-width="1.5"/>
<line x1="205.14" y1="519" x2="205.14" y2="520.8" stroke="#00B050" stroke-width="1.5"/>
<line x1="201.64" y1="519" x2="208.64" y2="519" stroke="#00B050" stroke-width="1.5"/>
<line x1="201.64" y1="520.8" x2="208.64" y2="520.8" stroke="#00B050" stroke-width="1.5"/>
<line x1="241.88" y1="519.6" x2="241.88" y2="521.6" stroke="#00B050" stroke-width="1.5"/>
<line x1="238.38" y1="519.6" x2="245.38" y2="519.6" stroke="#00B050" stroke-width="1.5"/>
<line x1="238.38" y1="521.6" x2="245.38" y2="521.6" stroke="#00B050" stroke-width="1.5"/>
<line x1="278.61" y1="517.5" x2="278.61" y2="521.7" stroke="#00B050" stroke-width="1.5"/>
<line x1="275.11" y1="517.5" x2="282.11" y2="517.5" stroke="#00B050" stroke-width="1.5"/>
<line x1="275.11" y1="521.7" x2="282.11" y2="521.7" stroke="#00B050" stroke-width="1.5"/>
<line x1="315.35" y1="517.2" x2="315.35" y2="525.1" stroke="#00B050" stroke-width="1.5"/>
<line x1="311.85" y1="517.2" x2="318.85" y2="517.2" stroke="#00B050" stroke-width="1.5"/>
<line x1="311.85" y1="525.1" x2="318.85" y2="525.1" stroke="#00B050" stroke-width="1.5"/>
<line x1="352.09" y1="515.4" x2="352.09" y2="527.2" stroke="#00B050" stroke-width="1.5"/>
<line x1="348.59" y1="515.4" x2="355.59" y2="515.4" stroke="#00B050" stroke-width="1.5"/>
<line x1="348.59" y1="527.2" x2="355.59" y2="527.2" stroke="#00B050" stroke-width="1.5"/>
<line x1="388.82" y1="510.9" x2="388.82" y2="522.7" stroke="#00B050" stroke-width="1.5"/>
<line x1="385.32" y1="510.9" x2="392.32" y2="510.9" stroke="#00B050" stroke-width="1.5"/>
<line x1="385.32" y1="522.7" x2="392.32" y2="522.7" stroke="#00B050" stroke-width="1.5"/>
<line x1="425.56" y1="516.2" x2="425.56" y2="528" stroke="#00B050" stroke-width="1.5"/>
<line x1="422.06" y1="516.2" x2="429.06" y2="516.2" stroke="#00B050" stroke-width="1.5"/>
<line x1="422.06" y1="528" x2="429.06" y2="528" stroke="#00B050" stroke-width="1.5"/>
<line x1="462.29" y1="514.9" x2="462.29" y2="528" stroke="#00B050" stroke-width="1.5"/>
<line x1="458.79" y1="514.9" x2="465.79" y2="514.9" stroke="#00B050" stroke-width="1.5"/>
<line x1="458.79" y1="528" x2="465.79" y2="528" stroke="#00B050" stroke-width="1.5"/>
<line x1="499.03" y1="515.9" x2="499.03" y2="523.8" stroke="#00B050" stroke-width="1.5"/>
<line x1="495.53" y1="515.9" x2="502.53" y2="515.9" stroke="#00B050" stroke-width="1.5"/>
<line x1="495.53" y1="523.8" x2="502.53" y2="523.8" stroke="#00B050" stroke-width="1.5"/>
<rect x="60.7" y="535.4" width="7.2" height="2.8" fill="#00B050"/>
<rect x="91.34" y="529.3" width="7.2" height="2.8" fill="#00B050"/>
<rect x="128.07" y="524.3" width="7.2" height="2.8" fill="#00B050"/>
<rect x="164.81" y="520.4" width="7.2" height="2.8" fill="#00B050"/>
<rect x="201.54" y="518.5" width="7.2" height="2.8" fill="#00B050"/>
<rect x="238.28" y="519.2" width="7.2" height="2.8" fill="#00B050"/>
<rect x="275.01" y="518.2" width="7.2" height="2.8" fill="#00B050"/>
<rect x="311.75" y="520" width="7.2" height="2.8" fill="#00B050"/>
<rect x="348.49" y="520" width="7.2" height="2.8" fill="#00B050"/>
<rect x="385.22" y="515.3" width="7.2" height="2.8" fill="#00B050"/>
<rect x="421.96" y="520.6" width="7.2" height="2.8" fill="#00B050"/>
<rect x="458.69" y="520" width="7.2" height="2.8" fill="#00B050"/>
<rect x="495.43" y="518.5" width="7.2" height="2.8" fill="#00B050"/>
<text x="315.6" y="611.7" font-size="15" text-anchor="middle">Time Since Induction dt (hr)</text>
<text transform="translate(21.8,447.6) rotate(-90)" font-size="15" text-anchor="middle">OD<tspan font-size="10" dy="3">600</tspan></text>
<text x="0" y="331.5" font-size="17.8" font-weight="bold">(b)</text>
<rect x="592.8" y="435.7" width="90.8" height="71.1" fill="#fff" stroke="#000" stroke-width="1.3"/>
<polygon points="602.8,443.7 606.7,447.2 602.8,450.7 598.9,447.2" fill="#000" stroke="#000" stroke-width="0.4"/>
<text x="609.0" y="451.5" font-size="13" letter-spacing="0.25">OS 13,000</text>
<polygon points="602.8,467.7 606.1,470.8 602.8,473.9 599.5,470.8" fill="none" stroke="#FF0000" stroke-width="1.5"/>
<text x="609.0" y="476.1" font-size="13" letter-spacing="0.25">KEV 13,000</text>
<rect x="599.2" y="493.4" width="7.2" height="3" rx="0.8" fill="#00B050"/>
<text x="609.0" y="499.8" font-size="13" letter-spacing="0.25">Static</text>
</svg>
</body></html>
